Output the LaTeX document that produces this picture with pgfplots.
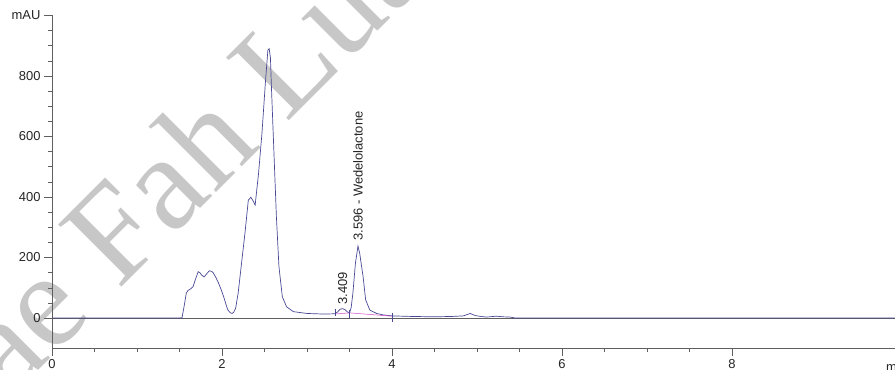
\documentclass[border=0pt]{standalone}
\usepackage{fontspec}
\setmainfont{Liberation Sans}
\newfontfamily\wmfont{Liberation Serif}
\usepackage{pgfplots}
\pgfplotsset{compat=1.18}
\definecolor{sig}{RGB}{72,72,150}
\definecolor{basel}{RGB}{215,70,200}
\definecolor{axc}{RGB}{95,95,95}
\begin{document}
\begin{tikzpicture}
\useasboundingbox (0,0) rectangle (895bp,370bp);
\clip (0,0) rectangle (895bp,370bp);
\fill[white] (0,0) rectangle (895bp,370bp);
\node[rotate=45, anchor=base west, text=black!22, font=\fontsize{136}{140}\selectfont\wmfont, inner sep=0pt] at (-76bp,-115bp) {Mae Fah Luang};
\begin{axis}[
  at={(52bp,21.75bp)}, anchor=south west,
  scale only axis, width=843bp, height=332.75bp,
  xmin=0, xmax=9.918, ymin=-100, ymax=1000,
  axis lines=left,
  axis line style={-, axc, line width=0.6pt},
  every tick/.style={axc, line width=0.5pt},
  tick align=outside,
  major tick length=8bp, minor tick length=4bp,
  xtick={0,2,4,6,8}, xticklabels={0,2,4,6,8},
  minor x tick num=3,
  ytick={0,200,400,600,800,1000}, yticklabels={0,200,400,600,800,mAU},
  minor y tick num=3,
  /pgf/number format/assume math mode=true,
  tick label style={font=\fontsize{13}{15}\selectfont, text=black!85},
  clip=true,
]
\addplot[axc, line width=0.6pt] coordinates {(0,0) (9.918,0)};
\addplot[sig, line width=0.7pt] coordinates {
(0,0) (1.50,0) (1.53,1) (1.555,40) (1.58,82) (1.60,91) (1.63,96) (1.66,104) (1.69,130) (1.72,153) (1.74,150)
(1.76,142) (1.79,136) (1.82,146) (1.85,156) (1.88,154) (1.90,148) (1.93,133) (1.96,115)
(1.99,94) (2.02,70) (2.05,42) (2.07,26) (2.10,17) (2.12,15) (2.14,20) (2.16,32) (2.19,82)
(2.23,181) (2.27,280) (2.31,390) (2.34,399) (2.37,385) (2.39,373) (2.43,478)
(2.47,610) (2.51,776) (2.54,886) (2.555,890) (2.57,860) (2.58,776) (2.61,555) (2.64,335)
(2.67,170) (2.71,70) (2.76,37) (2.84,21) (3.00,15) (3.20,13) (3.33,14) (3.36,20) (3.39,29)
(3.42,31) (3.45,27) (3.47,21) (3.50,16) (3.52,35) (3.54,82) (3.57,181) (3.60,238)
(3.62,214) (3.64,175) (3.66,137) (3.69,60) (3.74,26) (3.82,15) (3.90,10) (4.00,7)
(4.25,5) (4.49,4) (4.70,5) (4.84,7) (4.92,15) (4.98,8) (5.05,5) (5.11,3) (5.23,6)
(5.30,4) (5.39,3) (5.45,0) (9.918,0)};
\addplot[basel, line width=0.5pt] coordinates {(3.33,13) (3.50,17) (4.00,6)};
\addplot[sig, line width=0.5pt] coordinates {(3.33,30) (3.33,6)};
\addplot[sig, line width=0.5pt] coordinates {(3.50,28) (3.50,0)};
\addplot[sig, line width=0.5pt] coordinates {(4.00,16) (4.00,-13)};
\node[rotate=90, anchor=west, inner sep=2pt, font=\fontsize{13}{15}\selectfont, text=black!85] at (axis cs:3.42,38) {3.409};
\node[rotate=90, anchor=west, inner sep=2pt, font=\fontsize{13}{15}\selectfont, text=black!85] at (axis cs:3.60,248) {3.596 - Wedelolactone};
\end{axis}
\node[anchor=north west, font=\fontsize{13}{15}\selectfont, text=black!85, inner sep=0pt] at (886bp,8.5bp) {min};
\end{tikzpicture}
\end{document}
